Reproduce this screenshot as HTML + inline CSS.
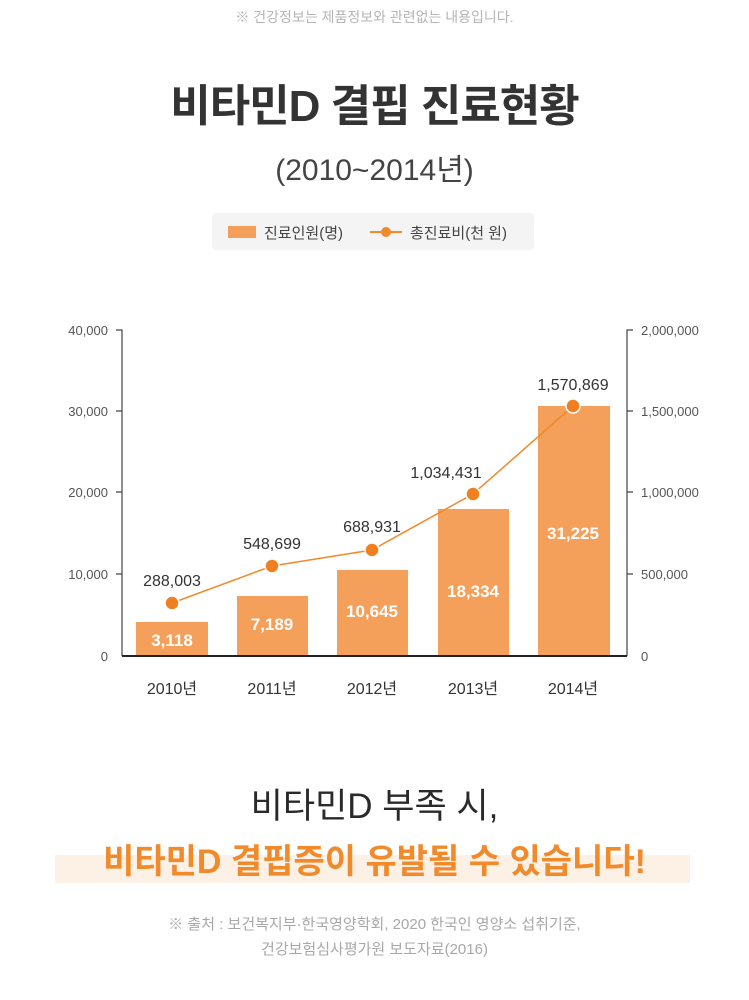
<!DOCTYPE html>
<html><head><meta charset="utf-8"><style>
body{margin:0;width:749px;height:1000px;background:#fff;font-family:"Liberation Sans","Noto Sans CJK KR",sans-serif;position:relative;overflow:hidden}
.t{position:absolute;left:0;width:749px;text-align:center;white-space:nowrap}
</style></head><body>
<div class="t" style="top:7px;font-size:14px;color:#b5b5b5">※ 건강정보는 제품정보와 관련없는 내용입니다.</div>
<div class="t" style="top:70px;font-size:44px;font-weight:bold;color:#333;letter-spacing:-1px">비타민D 결핍 진료현황</div>
<div class="t" style="top:145px;font-size:30px;color:#444">(2010~2014년)</div>
<div style="position:absolute;left:212px;top:213px;width:322px;height:37px;background:#f4f4f4;border-radius:4px"></div>
<div style="position:absolute;left:228px;top:226px;width:28px;height:12px;background:#f5a05a"></div>
<div style="position:absolute;left:264px;top:222px;font-size:15px;color:#444">진료인원(명)</div>
<div style="position:absolute;left:370px;top:231px;width:32px;height:2px;background:#f08a2a"></div>
<div style="position:absolute;left:381px;top:227px;width:10px;height:10px;border-radius:50%;background:#f08a2a"></div>
<div style="position:absolute;left:410px;top:222px;font-size:15px;color:#444">총진료비(천 원)</div>
<svg width="749" height="1000" style="position:absolute;left:0;top:0" font-family="Liberation Sans, Noto Sans CJK KR, sans-serif">
<g fill="#f5a05a">
<rect x="136" y="622" width="72" height="34"/><rect x="237" y="596" width="71" height="60"/><rect x="337" y="570" width="71" height="86"/><rect x="438" y="509" width="71" height="147"/><rect x="538" y="406" width="72" height="250"/>
</g>
<g stroke="#444" stroke-width="1.2" fill="none">
<path d="M116 330H122V656M116 411H122M116 492H122M116 574H122"/>
<path d="M633 330H627V656M633 411H627M633 492H627M633 574H627"/>
</g>
<line x1="122" y1="656" x2="627" y2="656" stroke="#222" stroke-width="2"/>
<g font-size="13" fill="#555" text-anchor="end">
<text x="108" y="335">40,000</text><text x="108" y="416">30,000</text><text x="108" y="497">20,000</text><text x="108" y="579">10,000</text><text x="108" y="661">0</text>
</g>
<g font-size="13" fill="#555">
<text x="641" y="335">2,000,000</text><text x="641" y="416">1,500,000</text><text x="641" y="497">1,000,000</text><text x="641" y="579">500,000</text><text x="641" y="661">0</text>
</g>
<polyline points="172,603 272,566 372,550 473,494 573,406" fill="none" stroke="#f08a2a" stroke-width="1.5"/>
<g fill="#f07f1f" stroke="#fff" stroke-width="1.5">
<circle cx="172" cy="603" r="7"/><circle cx="272" cy="566" r="7"/><circle cx="372" cy="550" r="7"/><circle cx="473" cy="494" r="7"/><circle cx="573" cy="406" r="7"/>
</g>
<g font-size="16" fill="#333" text-anchor="middle">
<text x="172" y="586">288,003</text><text x="272" y="549">548,699</text><text x="372" y="532">688,931</text><text x="446" y="478">1,034,431</text><text x="573" y="390">1,570,869</text>
</g>
<g font-size="17" fill="#fff" text-anchor="middle" font-weight="bold">
<text x="172" y="646">3,118</text><text x="272" y="630">7,189</text><text x="372" y="617">10,645</text><text x="473" y="597">18,334</text><text x="573" y="539">31,225</text>
</g>
<g font-size="16" fill="#333" text-anchor="middle">
<text x="172" y="694">2010년</text><text x="272" y="694">2011년</text><text x="372" y="694">2012년</text><text x="473" y="694">2013년</text><text x="573" y="694">2014년</text>
</g>
</svg>
<div class="t" style="top:778px;font-size:35px;color:#2a2a2a">비타민D 부족 시,</div>
<div style="position:absolute;left:55px;top:855px;width:635px;height:28px;background:#fdf0e4"></div>
<div class="t" style="top:834px;font-size:34px;color:#f08a2a;font-weight:bold">비타민D 결핍증이 유발될 수 있습니다!</div>
<div class="t" style="top:913px;font-size:15px;color:#a8a8a8">※ 출처 : 보건복지부·한국영양학회, 2020 한국인 영양소 섭취기준,</div>
<div class="t" style="top:938px;font-size:15px;color:#a8a8a8">건강보험심사평가원 보도자료(2016)</div>
</body></html>
